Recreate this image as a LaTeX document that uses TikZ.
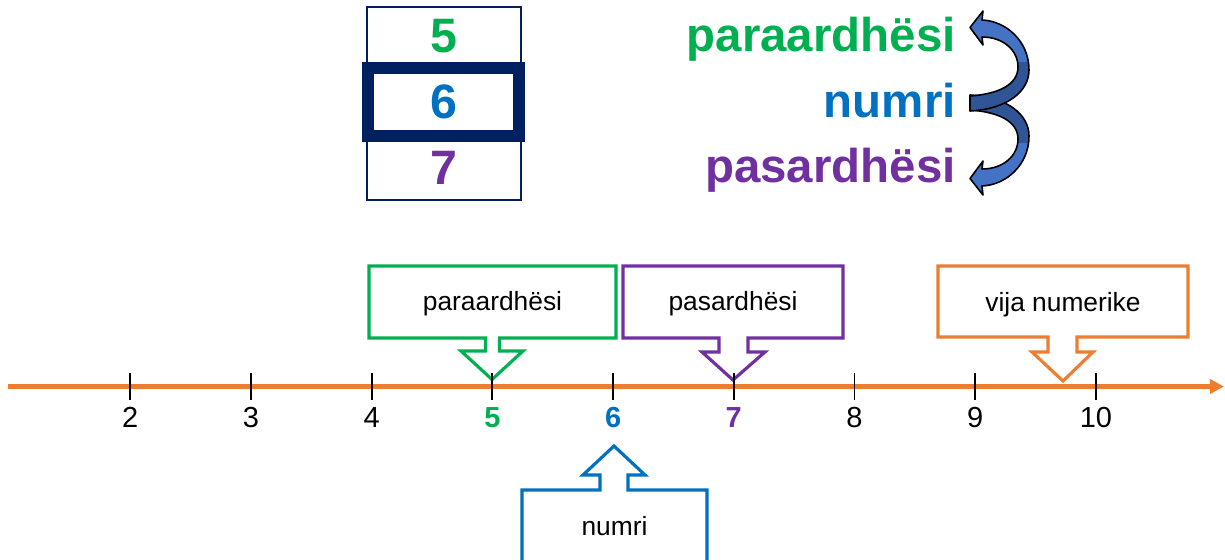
\documentclass[tikz,border=0pt]{standalone}
\usepackage{fontspec}
\setmainfont{Liberation Sans}
\usetikzlibrary{arrows.meta}
\definecolor{cgreen}{HTML}{00B050}
\definecolor{cblue}{HTML}{0070C0}
\definecolor{cpurple}{HTML}{7030A0}
\definecolor{corange}{HTML}{ED7D31}
\definecolor{cnavy}{HTML}{002060}
\definecolor{arrlight}{HTML}{4472C4}
\definecolor{arrdark}{HTML}{2F5597}
\newcommand\crvshape{(0,-75.5) -- (13,-92) -- (12,-83) .. controls (36,-82) and (59,-62) .. (59,-33) .. controls (59,-12) and (38,6) .. (0,8) -- (0,-7) .. controls (28,-9) and (48,-18) .. (48,-36) .. controls (48,-53) and (33,-66) .. (12,-66) -- (13,-58) -- cycle}
\newcommand\drawcrv{%
  \fill[arrlight] \crvshape;
  \begin{scope}
    \clip (-5,-40) rectangle (70,15);
    \fill[arrdark] \crvshape;
  \end{scope}
  \draw[black, line width=0.9pt, line join=round] \crvshape;
}
\begin{document}
\begin{tikzpicture}[x=0.02cm,y=-0.02cm,
  big/.style={font=\fontsize{27}{30}\selectfont\bfseries, inner sep=0},
  digit/.style={font=\fontsize{27.5}{30}\selectfont\bfseries, inner sep=0},
  axnum/.style={font=\fontsize{16.5}{18}\selectfont, inner sep=0, anchor=base},
  axbold/.style={axnum, font=\fontsize{16.5}{18}\selectfont\bfseries},
  callout/.style={line width=1.8pt, fill=white, line join=miter},
  ctext/.style={font=\fontsize{15}{17}\selectfont, inner sep=0, anchor=base},
  ticksty/.style={line width=1.1pt, black}]
\useasboundingbox (0,0) rectangle (1225,560);
\clip (0,0) rectangle (1225,560);

% top stacked boxes
\draw[cnavy, line width=1.2pt] (367,7) rectangle (521,200);
\draw[cnavy, line width=6.8pt, fill=white] (368,68) rectangle (519,136);
\node[digit, text=cgreen, anchor=base] (d5) at (444,53) {5};
\node[digit, text=cblue, anchor=base] (d6) at (444,119) {6};
\node[digit, text=cpurple, anchor=base] (d7) at (444,185) {7};

% right labels
\node[big, text=cgreen, anchor=base east] (lpar) at (956,52) {paraardhësi};
\node[big, text=cblue, anchor=base east] (lnum) at (956,118) {numri};
\node[big, text=cpurple, anchor=base east] (lpas) at (956,183) {pasardhësi};

% curved arrows
\begin{scope}[shift={(970,103)}, yscale=-1]
  \drawcrv
\end{scope}
\begin{scope}[shift={(970,103)}]
  \drawcrv
\end{scope}

% number line
\coordinate (axs) at (8,386.5);
\coordinate (axe) at (1224,386.5);
\draw[corange, line width=2.4pt, -{Triangle[length=8pt,width=8pt]}] (axs) -- (axe);

% callouts
\draw[callout, draw=cgreen] (369,266) -- (616,266) -- (616,338) -- (499.5,338) -- (499.5,351) -- (523,351) -- (492,379.5) -- (461,351) -- (485.5,351) -- (485.5,338) -- (369,338) -- cycle;
\draw[callout, draw=cpurple] (623,266) -- (843,266) -- (843,338) -- (748,338) -- (748,352) -- (765,352) -- (733,380) -- (702,352) -- (719,352) -- (719,338) -- (623,338) -- cycle;
\draw[callout, draw=corange] (938,266) -- (1188,266) -- (1188,337) -- (1077,337) -- (1077,352) -- (1093,352) -- (1063,381) -- (1032,352) -- (1048,352) -- (1048,337) -- (938,337) -- cycle;
\draw[callout, draw=cblue] (522,575) -- (522,490) -- (600,490) -- (600,475) -- (583,475) -- (614,446) -- (645,475) -- (628,475) -- (628,490) -- (707,490) -- (707,575) -- cycle;

\node[ctext] (tpar) at (492.5,311) {paraardhësi};
\node[ctext] (tpas) at (733,311) {pasardhësi};
\node[ctext] (tvija) at (1063,312) {vija numerike};
\node[ctext] (tnum) at (614.5,536) {numri};

% ticks and labels
\foreach \n in {2,...,10} {
  \coordinate (t\n) at ({130.3+120.7*(\n-2)},386.5);
  \draw[ticksty] ({130.3+120.7*(\n-2)},373) -- ({130.3+120.7*(\n-2)},400);
}
\foreach \n in {2,3,4,8,9,10} {
  \node[axnum] (n\n) at ({130.3+120.7*(\n-2)},428) {\n};
}
\node[axbold, text=cgreen] (n5) at ({130.3+120.7*3},428) {5};
\node[axbold, text=cblue] (n6) at ({130.3+120.7*4},428) {6};
\node[axbold, text=cpurple] (n7) at ({130.3+120.7*5},428) {7};
\end{tikzpicture}
\end{document}
